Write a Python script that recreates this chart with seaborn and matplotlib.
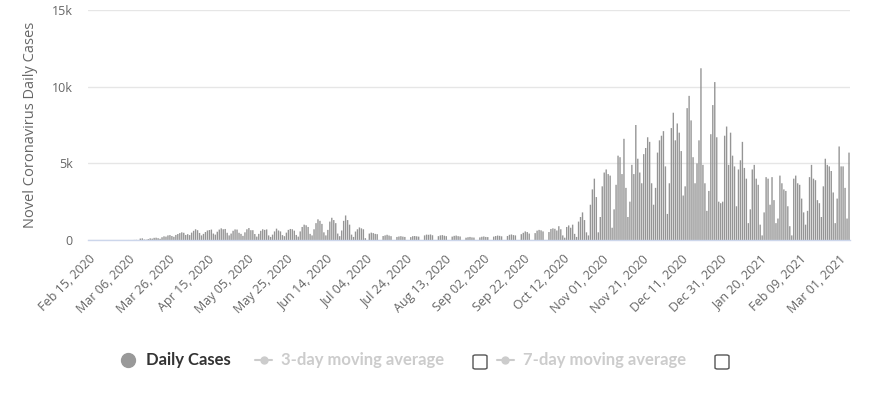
import numpy as np
import pandas as pd
import matplotlib
matplotlib.use("Agg")
import matplotlib.pyplot as plt
from matplotlib.lines import Line2D
from matplotlib.patches import FancyBboxPatch
import seaborn as sns

# daily cases, one value per day starting Feb 15, 2020
start_date = "2020-02-15"

cases_feb_may = [
    0, 0, 0, 0, 0, 0, 0,
    0, 0, 0, 0, 0, 0, 0,
    0, 0, 0, 0, 0, 0, 1,
    0, 0, 5, 10, 0, 95, 110,
    30, 20, 60, 110, 90, 140, 150,
    120, 80, 180, 240, 220, 300, 320,
    260, 210, 330, 390, 450, 500, 470,
    330, 380, 320, 480, 600, 700, 640,
    460, 300, 400, 520, 620, 650, 680,
    420, 350, 540, 680, 760, 700, 720,
    470, 300, 420, 600, 690, 680, 470,
    400, 270, 500, 700, 780, 640, 640,
    390, 220, 400, 600, 700, 660, 690,
    300, 200, 350, 560, 740, 620, 560,
    320, 250, 480, 660, 720, 700, 610,
]

cases_jun_sep = [
    330, 220, 560, 850, 1000, 960, 850,
    400, 300, 700, 1100, 1350, 1250, 1050,
    500, 300, 660, 1200, 1450, 1300, 1100,
    420, 250, 620, 1250, 1600, 1300, 1000,
    350, 200, 550, 700, 820, 760, 700,
    120, 0, 420, 480, 450, 400, 380,
    0, 0, 260, 300, 340, 290, 250,
    0, 0, 200, 230, 250, 220, 200,
    0, 0, 190, 250, 260, 240, 220,
    0, 0, 300, 350, 340, 360, 310,
    0, 0, 250, 300, 320, 280, 250,
    0, 0, 220, 270, 290, 250, 230,
    0, 0, 150, 180, 200, 170, 160,
    0, 0, 170, 210, 230, 200, 190,
    0, 0, 220, 260, 290, 270, 240,
    0, 0, 260, 340, 360, 320, 300,
    0, 0, 380, 470, 560, 520, 420,
    0, 0, 450, 610, 660, 630, 560,
    0, 0, 520, 720, 760, 730, 620,
]

cases_oct_dec = [
    900, 700, 300, 150, 850, 950, 800,
    1000, 400, 200, 1200, 1500, 1800, 1300,
    500, 300, 2300, 3300, 4000, 2800, 500,
    1500, 3500, 4400, 4600, 4300, 4200, 800,
    2000, 3600, 5500, 5400, 4300, 6600, 3400,
    1500, 2500, 4900, 4300, 7500, 5300, 4400,
    3700, 5600, 6000, 6700, 6400, 3700, 2300,
    3400, 5700, 6500, 6800, 7100, 4800, 1700,
    3700, 7300, 8300, 6500, 7600, 7000, 5800,
    2900, 3500, 8600, 9400, 7800, 5400, 3700,
    5000, 6500, 11200, 4900, 3700, 1900, 3200,
    6900, 8800, 10300, 6700, 2500, 2400, 2500,
]

cases_jan_mar = [
    6800, 7400, 4900, 7000, 5500, 4800, 2200,
    4600, 5200, 6400, 4700, 4000, 1100, 2000,
    4600, 4900, 4000, 3600, 1000, 300, 1800,
    4100, 4000, 2300, 4100, 2600, 1100, 1400,
    4200, 3700, 3300, 3200, 2200, 900, 300,
    4000, 4200, 3700, 3600, 2700, 1800, 1000,
    1900, 4100, 4900, 4000, 3900, 2600, 2400,
    1500, 3500, 5300, 4900, 4800, 4500, 3100,
    1100, 2700, 6100, 4800, 4800, 3400, 1400,
    5700,
]

cases = cases_feb_may + cases_jun_sep + cases_oct_dec + cases_jan_mar
dates = pd.date_range(start_date, periods=len(cases))
tick_step = 20

df = pd.DataFrame({"day": np.arange(len(cases)), "cases": cases})

sns.set_style("white")
plt.rcParams["font.family"] = ["Open Sans", "DejaVu Sans"]

fig = plt.figure(figsize=(8.7, 3.96), dpi=100)
ax = fig.add_axes([88 / 870, 1 - 240 / 396, (850 - 88) / 870, (240 - 10) / 396])

sns.barplot(data=df, x="day", y="cases", color="#959595", width=0.7,
            saturation=1, edgecolor="none", linewidth=0, ax=ax)
for p in ax.patches:
    p.set_snap(False)

ax.set_xlim(-0.5, len(cases) - 0.5)
ax.set_ylim(0, 15000)
ax.set_yticks([0, 5000, 10000, 15000])
ax.set_yticklabels(["0", "5k", "10k", "15k"], color="#666666", fontsize=9)
ax.yaxis.grid(True, color="#e6e6e6", linewidth=1)
ax.set_axisbelow(True)

ticks = list(range(0, len(cases), tick_step))
ax.set_xticks(ticks)
ax.set_xticklabels([dates[i].strftime("%b %d, %Y") for i in ticks],
                   rotation=45, ha="right", rotation_mode="anchor",
                   color="#666666", fontsize=9)
ax.tick_params(axis="x", length=0, pad=9)
ax.tick_params(axis="y", length=0, pad=11)

for side in ["top", "right", "left"]:
    ax.spines[side].set_visible(False)
ax.spines["bottom"].set_color("#ccd6eb")
ax.spines["bottom"].set_linewidth(1)

ax.set_xlabel("")
ax.set_ylabel("Novel Coronavirus Daily Cases", color="#666666", fontsize=10.5, labelpad=10)

# legend row below the chart
ly = 1 - 360 / 396
legend_font = ["Lato", "DejaVu Sans"]
fig.lines.append(Line2D([128 / 870], [ly], transform=fig.transFigure,
                        color="#999999", marker="o", markersize=10, linestyle="none"))
fig.text(146 / 870, ly, "Daily Cases", fontsize=12, fontweight="bold",
         color="#333333", va="center", family=legend_font)

for x0, label, box_x in [(255, "3-day moving average", 480), (497, "7-day moving average", 722)]:
    fig.lines.append(Line2D([x0 / 870, (x0 + 17) / 870], [ly, ly], transform=fig.transFigure,
                            color="#cccccc", linewidth=1.5))
    fig.lines.append(Line2D([(x0 + 8.5) / 870], [ly], transform=fig.transFigure,
                            color="#cccccc", marker="o", markersize=5, linestyle="none"))
    fig.text((x0 + 26) / 870, ly, label, fontsize=12, fontweight="bold",
             color="#cccccc", va="center", family=legend_font)
    fig.patches.append(FancyBboxPatch(((box_x - 7) / 870, ly - 9 / 396), 14 / 870, 14 / 396,
                                      boxstyle="round,pad=0,rounding_size=0.003",
                                      transform=fig.transFigure, facecolor="white",
                                      edgecolor="#555555", linewidth=1))

fig.savefig("out.png", dpi=100)
